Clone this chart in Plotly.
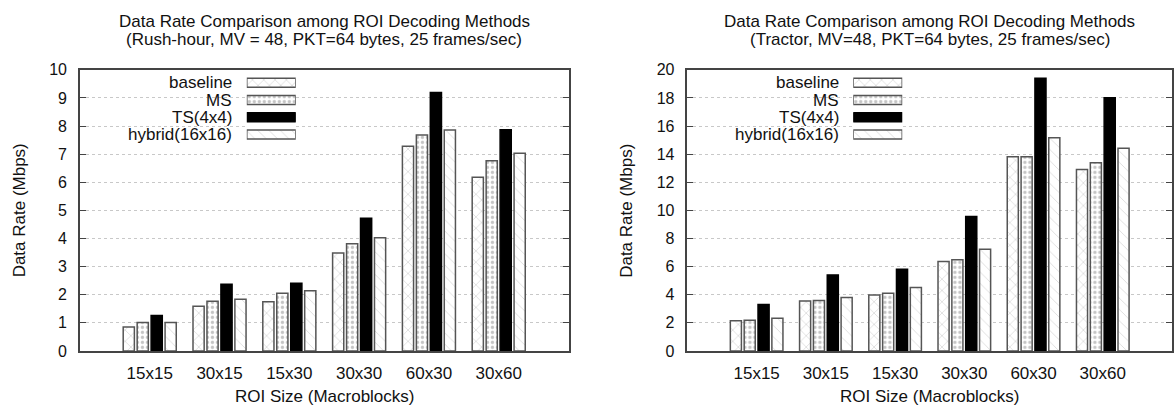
import plotly.graph_objects as go

W, H = 1174, 412

categories = ["15x15", "30x15", "15x30", "30x30", "60x30", "30x60"]
series_names = ["baseline", "MS", "TS(4x4)", "hybrid(16x16)"]

# Left chart: Rush-hour
rush_baseline = [0.85, 1.59, 1.75, 3.48, 7.28, 6.18]
rush_ms = [1.01, 1.77, 2.05, 3.81, 7.68, 6.77]
rush_ts = [1.26, 2.37, 2.41, 4.72, 9.19, 7.87]
rush_hybrid = [1.01, 1.84, 2.14, 4.03, 7.86, 7.03]

# Right chart: Tractor
tractor_baseline = [2.14, 3.55, 3.98, 6.36, 13.82, 12.91]
tractor_ms = [2.18, 3.59, 4.11, 6.48, 13.82, 13.39]
tractor_ts = [3.30, 5.41, 5.82, 9.57, 19.40, 18.02]
tractor_hybrid = [2.32, 3.80, 4.52, 7.23, 15.16, 14.43]

left_title = ["Data Rate Comparison among ROI Decoding Methods",
              "(Rush-hour, MV = 48, PKT=64 bytes, 25 frames/sec)"]
right_title = ["Data Rate Comparison among ROI Decoding Methods",
               "(Tractor, MV=48, PKT=64 bytes, 25 frames/sec)"]
y_title = "Data Rate (Mbps)"
x_title = "ROI Size (Macroblocks)"

FONT = "Liberation Sans, Arial, Helvetica, sans-serif"
TXT = "#111111"
OUTLINE = "#555555"

styles = [
    dict(color="white", line=dict(color=OUTLINE, width=1.5),
         pattern=dict(shape="x", fgcolor="#8a8a8a", bgcolor="white", size=8, solidity=0.12)),
    dict(color="white", line=dict(color=OUTLINE, width=1.5),
         pattern=dict(shape=".", fgcolor="#8a8a8a", bgcolor="white", size=5, solidity=0.35)),
    dict(color="black", line=dict(color="black", width=1.5)),
    dict(color="white", line=dict(color=OUTLINE, width=1.5),
         pattern=dict(shape="\\", fgcolor="#b0b0b0", bgcolor="white", size=8, solidity=0.1)),
]

def px_x(p):
    return p / W

def px_y(p):
    return 1 - p / H

# plot area pixel bounds
L1, R1 = 80, 569
L2, R2 = 688, 1173
TOP, BOT = 64.5, 357.7

fig = go.Figure()

left_data = [rush_baseline, rush_ms, rush_ts, rush_hybrid]
right_data = [tractor_baseline, tractor_ms, tractor_ts, tractor_hybrid]

for name, vals, st in zip(series_names, left_data, styles):
    fig.add_trace(go.Bar(x=categories, y=vals, name=name, marker=st,
                         xaxis="x", yaxis="y", showlegend=False, hoverinfo="x+y+name"))
for name, vals, st in zip(series_names, right_data, styles):
    fig.add_trace(go.Bar(x=categories, y=vals, name=name, marker=st,
                         xaxis="x2", yaxis="y2", showlegend=False, hoverinfo="x+y+name"))

# legend samples (custom gnuplot-style key)
legend_rows = list(range(len(series_names)))
for ax_x, ax_y in (("x3", "y3"), ("x4", "y4")):
    for i, (name, st) in enumerate(zip(series_names, styles)):
        fig.add_trace(go.Bar(x=[1], y=[legend_rows[i]], orientation="h", base=0,
                             width=0.52, offset=-0.26, marker=st,
                             xaxis=ax_x, yaxis=ax_y, showlegend=False, hoverinfo="skip"))

axis_common = dict(showline=True, linecolor="#444444", linewidth=1.5, mirror=True,
                   tickfont=dict(family=FONT, size=17, color=TXT), zeroline=False)

ydom = [px_y(BOT), px_y(TOP)]

yaxis_common = dict(ticks="inside", ticklen=6, tickcolor="#444444", tickwidth=1,
                    showgrid=True, gridcolor="#c8c8c8", griddash="dot", gridwidth=1,
                    ticklabelstandoff=8, showline=True, linecolor="#444444", linewidth=1.5,
                    mirror="ticks", zeroline=False,
                    tickfont=dict(family=FONT, size=16, color=TXT))

fig.update_layout(
    width=W, height=H, margin=dict(l=0, r=0, t=0, b=0),
    paper_bgcolor="white", plot_bgcolor="white",
    barmode="group", bargap=0.2, bargroupgap=0.2,
    font=dict(family=FONT, color=TXT),
    xaxis=dict(domain=[px_x(L1), px_x(R1)], anchor="y", type="category",
               range=[-1, 6], ticks="", showgrid=False, ticklabelstandoff=6, **axis_common),
    yaxis=dict(domain=ydom, anchor="x", range=[0, 10], dtick=1, **yaxis_common),
    xaxis2=dict(domain=[px_x(L2), px_x(R2)], anchor="y2", type="category",
                range=[-1, 6], ticks="", showgrid=False, ticklabelstandoff=6, **axis_common),
    yaxis2=dict(domain=ydom, anchor="x2", range=[0, 20], dtick=2, **yaxis_common),
    xaxis3=dict(domain=[px_x(L1 + 167), px_x(L1 + 216)], anchor="y3", range=[0, 1], visible=False, fixedrange=True),
    yaxis3=dict(domain=[px_y(141), px_y(69)], anchor="x3", range=[3.5, -0.5], visible=False, fixedrange=True),
    xaxis4=dict(domain=[px_x(L2 + 166), px_x(L2 + 215)], anchor="y4", range=[0, 1], visible=False, fixedrange=True),
    yaxis4=dict(domain=[px_y(141), px_y(69)], anchor="x4", range=[3.5, -0.5], visible=False, fixedrange=True),
)

annotations = []
for (L, R, title, yref) in ((L1, R1, left_title, "y3"), (L2, R2, right_title, "y4")):
    cx = px_x((L + R) / 2)
    annotations.append(dict(x=cx, y=px_y(14), xref="paper", yref="paper", text=title[0],
                            showarrow=False, xanchor="center", yanchor="middle",
                            font=dict(family=FONT, size=17, color=TXT)))
    annotations.append(dict(x=cx, y=px_y(33), xref="paper", yref="paper", text=title[1],
                            showarrow=False, xanchor="center", yanchor="middle",
                            font=dict(family=FONT, size=17, color=TXT)))
    annotations.append(dict(x=cx, y=px_y(405), xref="paper", yref="paper", text=x_title,
                            showarrow=False, xanchor="center", yanchor="middle",
                            font=dict(family=FONT, size=17, color=TXT)))
    annotations.append(dict(x=px_x(L - 61), y=px_y((TOP + BOT) / 2), xref="paper", yref="paper",
                            text=y_title, textangle=-90, showarrow=False,
                            xanchor="center", yanchor="middle",
                            font=dict(family=FONT, size=17, color=TXT)))
    for i, name in enumerate(series_names):
        annotations.append(dict(x=px_x(L + 154), y=legend_rows[i], xref="paper", yref=yref,
                                text=name, showarrow=False, xanchor="right", yanchor="middle",
                                font=dict(family=FONT, size=17, color=TXT)))

fig.update_layout(annotations=annotations)

fig.write_html("out.html")
